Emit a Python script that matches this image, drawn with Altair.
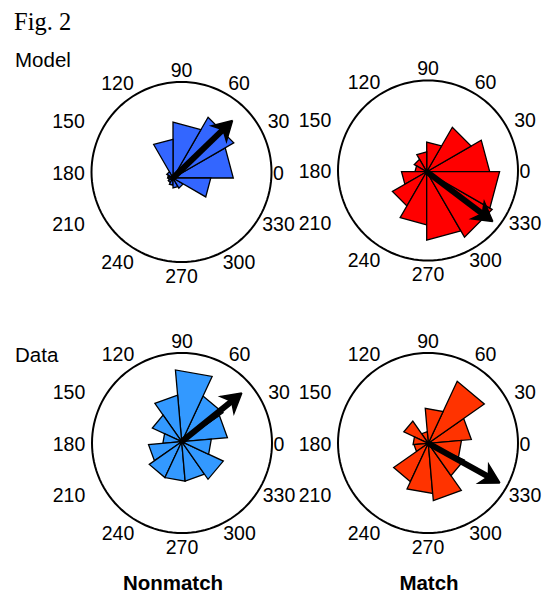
import altair as alt
import pandas as pd

# ---------------- data (rose bin lengths, fraction of outer ring) ----------------
BIN_WIDTH = 30
model_bin_start = 0
data_bin_start = 5
model_nonmatch = [0.67, 0.78, 0.62, 0.43, 0.08, 0.06, 0.05, 0.06, 0.08, 0.11, 0.13, 0.42]
model_match = [0.70, 0.57, 0.33, 0.22, 0.16, 0.13, 0.28, 0.44, 0.59, 0.76, 0.84, 0.81]
data_nonmatch = [0.51, 0.56, 0.80, 0.52, 0.36, 0.21, 0.37, 0.44, 0.44, 0.44, 0.51, 0.33]
data_match = [0.48, 0.76, 0.39, 0.13, 0.30, 0.17, 0.16, 0.47, 0.56, 0.64, 0.44, 0.37]
mean_angle = [44, 323, 39, 331]
mean_length = [0.92, 0.92, 0.86, 0.91]
tick_angles = [0, 30, 60, 90, 120, 150, 180, 210, 240, 270, 300, 330]
panel_names = ["model_nonmatch", "model_match", "data_nonmatch", "data_match"]
panel_colors = ["#3366FF", "#FF0000", "#3399FF", "#FF3300"]

# ---------------- layout (page pixels) ----------------
R = 90
circle_centers = [(181.5, 172), (428, 170.5), (182, 443), (428, 443)]
rose_origins = [(173, 178), (426.7, 171.7), (181.7, 441.7), (428.3, 443.3)]
HEAD_LEN = 0.21
HEAD_W = 0.12

values = [model_nonmatch, model_match, data_nonmatch, data_match]
starts = [model_bin_start, model_bin_start, data_bin_start, data_bin_start]

X = lambda: alt.X("px:Q", scale=alt.Scale(domain=[8, 544], nice=False, zero=False), axis=None)
Y = lambda: alt.Y("py:Q", scale=alt.Scale(domain=[593, 8], nice=False, zero=False), axis=None)

# circles
circ_rows = []
for p, (cx, cy) in zip(panel_names, circle_centers):
    for t in range(0, 361, 3):
        circ_rows.append({"panel": p, "t": t, "cx": cx, "cy": cy})
circles = alt.Chart(pd.DataFrame(circ_rows)).transform_calculate(
    px=f"datum.cx + {R}*cos(datum.t*PI/180)",
    py=f"datum.cy - {R}*sin(datum.t*PI/180)",
).mark_line(stroke="black", strokeWidth=2).encode(
    x=X(), y=Y(), detail="panel:N", order="t:Q"
)

layers = [circles]

# wedges
for p, vals, st, col, (ox, oy) in zip(panel_names, values, starts, panel_colors, rose_origins):
    rows = []
    for i, v in enumerate(vals):
        a0 = st + i * BIN_WIDTH
        for k, (th, rr) in enumerate([(a0, 0), (a0, v), (a0 + BIN_WIDTH, v), (a0, 0)]):
            rows.append({"wedge": f"{p}-{i}", "k": k, "theta": th, "r": rr, "ox": ox, "oy": oy})
    layers.append(
        alt.Chart(pd.DataFrame(rows)).transform_calculate(
            px=f"datum.ox + {R}*datum.r*cos(datum.theta*PI/180)",
            py=f"datum.oy - {R}*datum.r*sin(datum.theta*PI/180)",
        ).mark_line(fill=col, stroke="black", strokeWidth=1.3, strokeJoin="miter").encode(
            x=X(), y=Y(), detail="wedge:N", order="k:Q"
        )
    )

# arrows
shaft_rows, head_rows = [], []
for p, ang, L, (ox, oy) in zip(panel_names, mean_angle, mean_length, rose_origins):
    shaft_rows += [
        {"panel": p, "k": 0, "a": 0.0, "q": 0.0, "phi": ang, "ox": ox, "oy": oy},
        {"panel": p, "k": 1, "a": L - 0.7 * HEAD_LEN, "q": 0.0, "phi": ang, "ox": ox, "oy": oy},
    ]
    for k, (a, q) in enumerate([(L, 0), (L - HEAD_LEN, HEAD_W), (L - 0.7 * HEAD_LEN, 0),
                                (L - HEAD_LEN, -HEAD_W), (L, 0)]):
        head_rows.append({"panel": p, "k": k, "a": a, "q": q, "phi": ang, "ox": ox, "oy": oy})

calc = dict(
    px=f"datum.ox + {R}*(datum.a*cos(datum.phi*PI/180) - datum.q*sin(datum.phi*PI/180))",
    py=f"datum.oy - {R}*(datum.a*sin(datum.phi*PI/180) + datum.q*cos(datum.phi*PI/180))",
)
layers.append(
    alt.Chart(pd.DataFrame(shaft_rows)).transform_calculate(**calc)
    .mark_line(stroke="black", strokeWidth=6, strokeCap="butt")
    .encode(x=X(), y=Y(), detail="panel:N", order="k:Q")
)
layers.append(
    alt.Chart(pd.DataFrame(head_rows)).transform_calculate(**calc)
    .mark_line(fill="black", stroke="black", strokeWidth=1.5)
    .encode(x=X(), y=Y(), detail="panel:N", order="k:Q")
)

# angle labels: horizontal offsets step with the side of the ring
lab_rows = []
for p, (cx, cy) in zip(panel_names, circle_centers):
    for t in tick_angles:
        lab_rows.append({"panel": p, "t": t, "label": str(t), "cx": cx, "cy": cy})
xoff = ("(cos(datum.t*PI/180) > 0.7 ? 97 : cos(datum.t*PI/180) > 0.3 ? 57.5 : "
        "cos(datum.t*PI/180) < -0.7 ? -113 : cos(datum.t*PI/180) < -0.3 ? -64 : 0)")
layers.append(
    alt.Chart(pd.DataFrame(lab_rows)).transform_calculate(
        px=f"datum.cx + {xoff}",
        py="datum.cy - 103*sin(datum.t*PI/180) + 1.5",
    ).mark_text(font="Liberation Sans", fontSize=19.5, align="center", baseline="middle", color="black")
    .encode(x=X(), y=Y(), text="label:N")
)

# titles
def txt(s, x, y, **kw):
    return alt.Chart(pd.DataFrame({"s": [s]})).mark_text(baseline="alphabetic", color="black", **kw).encode(
        x=alt.value(x), y=alt.value(y), text="s:N")

layers += [
    txt("Fig. 2", 6, 21.5, font="Liberation Serif", fontSize=24.5, align="left"),
    txt("Model", 7, 59, font="Liberation Sans", fontSize=20.5, align="left"),
    txt("Data", 7, 354, font="Liberation Sans", fontSize=20.5, align="left"),
    txt("Nonmatch", 165, 581.5, font="Liberation Sans", fontSize=20.5, fontWeight="bold", align="center"),
    txt("Match", 421, 581.5, font="Liberation Sans", fontSize=20.5, fontWeight="bold", align="center"),
]

chart = alt.layer(*layers).properties(
    width=536, height=585, padding=0, autosize="none"
).configure_view(stroke=None)

chart.save("out.html", embed_options={"renderer": "svg", "actions": False})
